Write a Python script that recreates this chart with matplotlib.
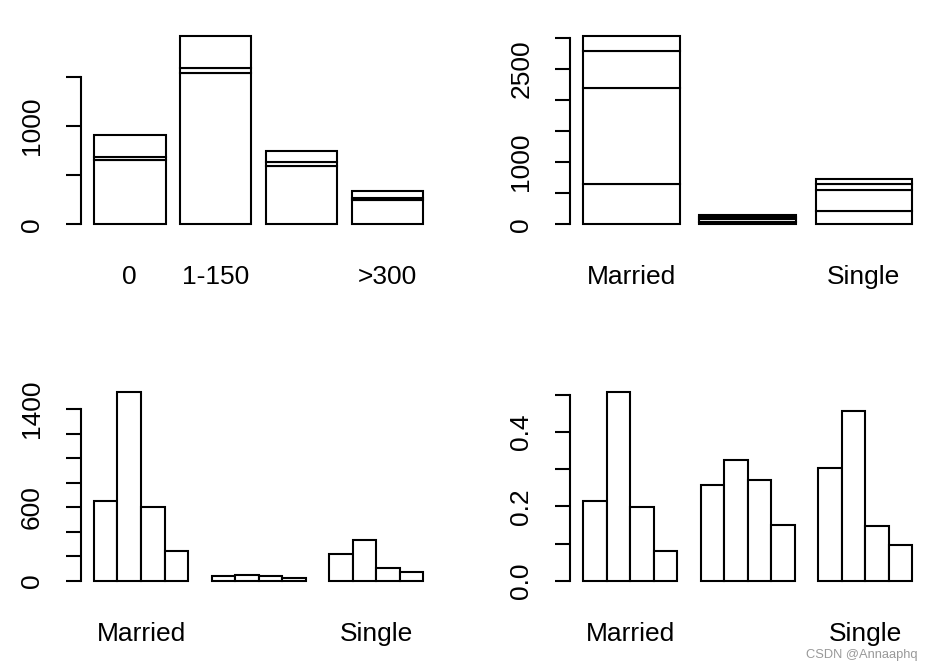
import numpy as np
import matplotlib
matplotlib.use("Agg")
import matplotlib.pyplot as plt

plt.rcParams['font.family'] = ['Liberation Sans', 'DejaVu Sans']

# counts: rows = balance class, cols = marital status
rows = ['0', '1-150', '151-300', '>300']
cols = ['Married', 'Divorced', 'Single']
married = [650, 1540, 598, 245]
divorced = [38, 48, 40, 22]
single = [220, 330, 106, 69]
# labels R actually drew (the rest were dropped for overlap)
row_labels_shown = ['0', '1-150', '', '>300']
col_labels_shown = ['Married', '', 'Single']

counts = np.array([married, divorced, single]).T  # 4 x 3
props = counts / counts.sum(axis=0)

W, H = 934, 672
fig = plt.figure(figsize=(W / 100, H / 100), dpi=100)
FS = 19
LW = 1.5

def rect(l, t, r, b):
    return [l / W, 1 - b / H, (r - l) / W, (b - t) / H]

def rlim(lo, hi):
    d = (hi - lo) * 0.04
    return lo - d, hi + d

def style(ax, yticks, ylabels, xpos, xlabels):
    for s in ['top', 'right', 'bottom']:
        ax.spines[s].set_visible(False)
    ax.spines['left'].set_linewidth(LW)
    ax.spines['left'].set_bounds(yticks[0], yticks[-1])
    ax.set_yticks(yticks)
    ax.set_yticklabels(ylabels, rotation=90, va='center', fontsize=FS)
    ax.tick_params(axis='y', length=11, width=LW, pad=15.5)
    ax.set_xticks(xpos)
    ax.set_xticklabels(xlabels, fontsize=FS)
    ax.tick_params(axis='x', length=0, pad=24)

def stacked(ax, mat):
    n = mat.shape[1]
    x = 0.2 + 1.2 * np.arange(n) + 0.5
    bottom = np.zeros(n)
    for k in range(mat.shape[0]):
        ax.bar(x, mat[k], 1.0, bottom=bottom, color='white', edgecolor='black', linewidth=LW)
        bottom = bottom + mat[k]
    ax.set_xlim(*rlim(0.2, 0.2 + 1.2 * (n - 1) + 1))
    ax.set_ylim(*rlim(0, bottom.max()))
    return x

def beside(ax, mat):
    nr, nc = mat.shape
    centers = []
    for g in range(nc):
        x = 1 + g * (nr + 1) + np.arange(nr) + 0.5
        ax.bar(x, mat[:, g], 1.0, color='white', edgecolor='black', linewidth=LW)
        centers.append(x.mean())
    ax.set_xlim(*rlim(1, nc * (nr + 1)))
    ax.set_ylim(*rlim(0, mat.max()))
    return centers

# top left: stacked by balance class
ax1 = fig.add_axes(rect(80.8, 28, 436.3, 232))
x1 = stacked(ax1, counts.T)
style(ax1, [0, 500, 1000, 1500], ['0', '', '1000', ''], x1, row_labels_shown)

# top right: stacked by marital status
ax2 = fig.add_axes(rect(570.1, 28, 925.5, 232))
x2 = stacked(ax2, counts)
style(ax2, np.arange(0, 3001, 500), ['0', '', '1000', '', '', '2500', ''], x2, col_labels_shown)

# bottom left: side by side counts
ax3 = fig.add_axes(rect(80.8, 384.3, 436.5, 588.3))
c3 = beside(ax3, counts)
style(ax3, np.arange(0, 1401, 200), ['0', '', '', '600', '', '', '', '1400'], c3, col_labels_shown)

# bottom right: proportions within marital status
ax4 = fig.add_axes(rect(570.1, 384.3, 925.5, 588.3))
c4 = beside(ax4, props)
style(ax4, np.arange(0, 0.51, 0.1), ['0.0', '', '0.2', '', '0.4', ''], c4, col_labels_shown)

fig.text(918 / W, 1 - 655 / H, 'CSDN @Annaaphq', color='#999999', fontsize=9.3,
         ha='right', va='center')

fig.savefig('out.png', dpi=100, facecolor='white')
